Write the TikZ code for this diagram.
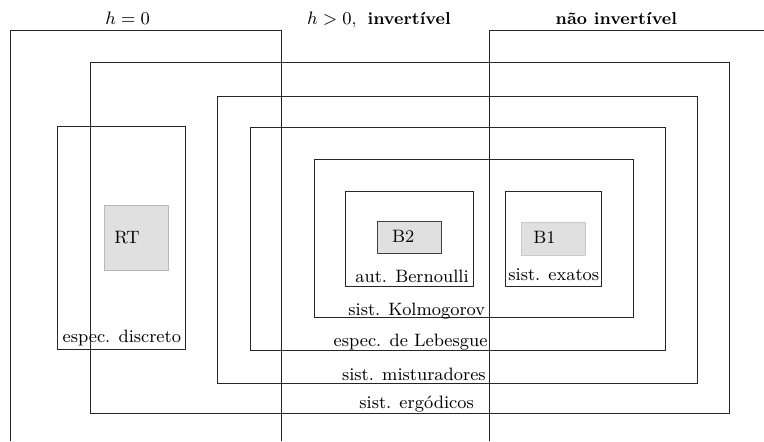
\documentclass[tikz,border=0pt]{standalone}
\usepackage{fontspec}
\usepackage{tikz}
\usetikzlibrary{positioning}

\definecolor{box_fill}{gray}{0.88}
\definecolor{box_line_light}{gray}{0.72}
\definecolor{box_line_pale}{gray}{0.79}

\begin{document}
\begin{tikzpicture}[x=0.5pt, y=-0.5pt,
region/.style={draw=black!85, line width=0.5pt},
inner_box/.style={draw=black!75, fill=box_fill, line width=0.5pt},
label_text/.style={inner sep=0pt, anchor=base west, font=\fontsize{8.95}{11}\selectfont},
head_text/.style={label_text, font=\fontsize{8.6}{11}\selectfont},
]
\useasboundingbox (0,0) rectangle (764,441);

% open regions: h = 0 and nao invertivel
\draw[region] (10,441) -- (10,30.7) -- (281.3,30.7) -- (281.3,441);
\draw[region] (489.7,441) -- (489.7,30.7) -- (764,30.7);

% nested regions
\draw[region] (90,62) rectangle (729.5,413);        % ergodicos
\draw[region] (217.7,96.7) rectangle (697.3,383.5); % misturadores
\draw[region] (250,127.3) rectangle (665.5,350.8);  % Lebesgue
\draw[region] (314,159.3) rectangle (633.3,317.7);  % Kolmogorov
\draw[region] (345.7,191) rectangle (473.7,286.7);  % Bernoulli
\draw[region] (505.7,191) rectangle (601,286);      % exatos
\draw[region] (57.7,126.7) rectangle (185,349.7);   % espec. discreto

% small grey boxes
\draw[inner_box, draw=box_line_light] (104.3,205) rectangle (168.7,270.3);
\draw[inner_box] (377.7,221.7) rectangle (441.7,253.3);
\draw[inner_box, draw=box_line_pale] (521,222.3) rectangle (585.7,255.7);

% \node[label_text](name)at(x,y){text}
\node[head_text](label_h_zero) at (105,24) {$h=0$};
\node[head_text](label_h_pos) at (306.7,24.5) {$h>0$,\hspace{5.5pt}\textbf{invertível}};
\node[head_text](label_not_inv) at (555.3,24) {\textbf{não invertível}};

\node[label_text](label_rt) at (114,243.3) {RT};
\node[label_text](label_b_two) at (391.7,242.7) {B2};
\node[label_text](label_b_one) at (533,243.3) {B1};

\node[label_text](label_discrete) at (62.3,342.3) {espec. discreto};
\node[label_text](label_bernoulli) at (355,282.7) {aut. Bernoulli};
\node[label_text](label_exact) at (508,280) {sist. exatos};
\node[label_text](label_kolmogorov) at (348,315) {sist. Kolmogorov};
\node[label_text](label_lebesgue) at (333.3,346.7) {espec. de Lebesgue};
\node[label_text](label_mixing) at (341.7,380) {sist. misturadores};
\node[label_text](label_ergodic) at (359,408) {sist. ergódicos};

\end{tikzpicture}
\end{document}
